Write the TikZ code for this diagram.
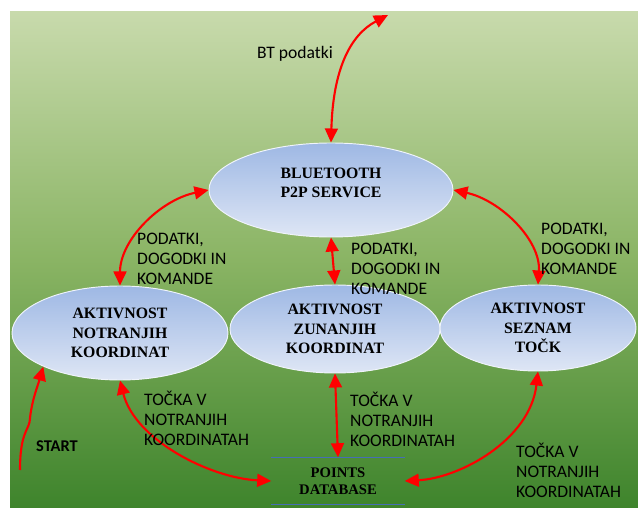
\documentclass[tikz,border=0pt]{standalone}
\usepackage{fontspec}
\setmainfont{Liberation Serif}
\newfontfamily\lblfont{Carlito}
\usetikzlibrary{arrows.meta,shapes.geometric}
\definecolor{bgtop}{RGB}{200,218,172}
\definecolor{bgmid}{RGB}{138,180,100}
\definecolor{bgbot}{RGB}{62,132,44}
\definecolor{elltop}{RGB}{158,184,228}
\definecolor{ellbot}{RGB}{222,230,245}
\definecolor{dbline}{RGB}{70,110,180}
\tikzset{
  state/.style={ellipse, draw=white!85!elltop, line width=0.8pt, top color=elltop, bottom color=ellbot,
    font=\fontsize{13.5}{16.5}\selectfont\bfseries, align=center, inner sep=0pt},
  lbl/.style={font=\lblfont\fontsize{15}{17}\selectfont, align=left, anchor=north west, inner sep=0pt},
  flow/.style={red, line width=1.8pt, {Triangle[length=12pt,width=11pt]}-{Triangle[length=12pt,width=11pt]}},
  oneway/.style={red, line width=1.8pt, -{Triangle[length=12pt,width=11pt]}}
}
\begin{document}
\begin{tikzpicture}[x=0.03cm,y=-0.03cm]
\useasboundingbox (0,0) rectangle (638,508);
% background
\shade[top color=bgtop, bottom color=bgbot, middle color=bgmid] (10,12) rectangle (638,508);
% states
\node[state, minimum width=7.32cm, minimum height=2.82cm, text depth=12pt] (bt) at (331,190) {BLUETOOTH\\P2P SERVICE};
\node[state, minimum width=6.48cm, minimum height=2.82cm] (inner) at (120,333) {AKTIVNOST\\NOTRANJIH\\KOORDINAT};
\node[state, minimum width=6.3cm, minimum height=2.64cm] (outer) at (335,329) {AKTIVNOST\\ZUNANJIH\\KOORDINAT};
\node[state, minimum width=5.88cm, minimum height=2.58cm] (list) at (538,328) {AKTIVNOST\\SEZNAM\\TOČK};
% database
\node[font=\fontsize{12.5}{14.5}\selectfont\bfseries, align=center, minimum width=3.99cm, minimum height=1.41cm] (db) at (338,481) {POINTS\\DATABASE};
\draw[dbline, line width=1.2pt] (db.north west) -- (db.north east);
\draw[dbline, line width=1.2pt] (db.south west) -- (db.south east);
\coordinate (ext) at (388,15);
\coordinate (start) at (20,470);
% connectors
\draw[flow] (bt.north) .. controls (333,70) and (350,35) .. (ext);
\draw[flow] (bt.west) .. controls (160,200) and (120,240) .. (inner.north);
\draw[flow] (bt.south) -- (outer.north);
\draw[flow] (bt.east) .. controls (500,200) and (541,240) .. (list.north);
\draw[flow] (inner.south) .. controls (135,440) and (210,478) .. (db.west);
\draw[flow] (outer.south) -- (db.north);
\draw[flow] (list.south) .. controls (530,440) and (460,478) .. (db.east);
\draw[oneway] (start) .. controls (20,430) and (30,430) .. (30,418) .. controls (32,400) and (38,385) .. (inner.south west);
% labels
\node[lbl] (btlbl) at (257,46) {BT podatki};
\node[lbl] (l1) at (137,233) {PODATKI,\\DOGODKI IN\\KOMANDE};
\node[lbl] (l2) at (351,243) {PODATKI,\\DOGODKI IN\\KOMANDE};
\node[lbl] (l3) at (541,223) {PODATKI,\\DOGODKI IN\\KOMANDE};
\node[lbl] (l4) at (144,391) {TOČKA V\\NOTRANJIH\\KOORDINATAH};
\node[lbl] (l5) at (350,392) {TOČKA V\\NOTRANJIH\\KOORDINATAH};
\node[lbl] (l6) at (516,443) {TOČKA V\\NOTRANJIH\\KOORDINATAH};
\node[lbl, font=\lblfont\bfseries\fontsize{14}{16}\selectfont] (startlbl) at (36,441) {START};
\end{tikzpicture}
\end{document}
